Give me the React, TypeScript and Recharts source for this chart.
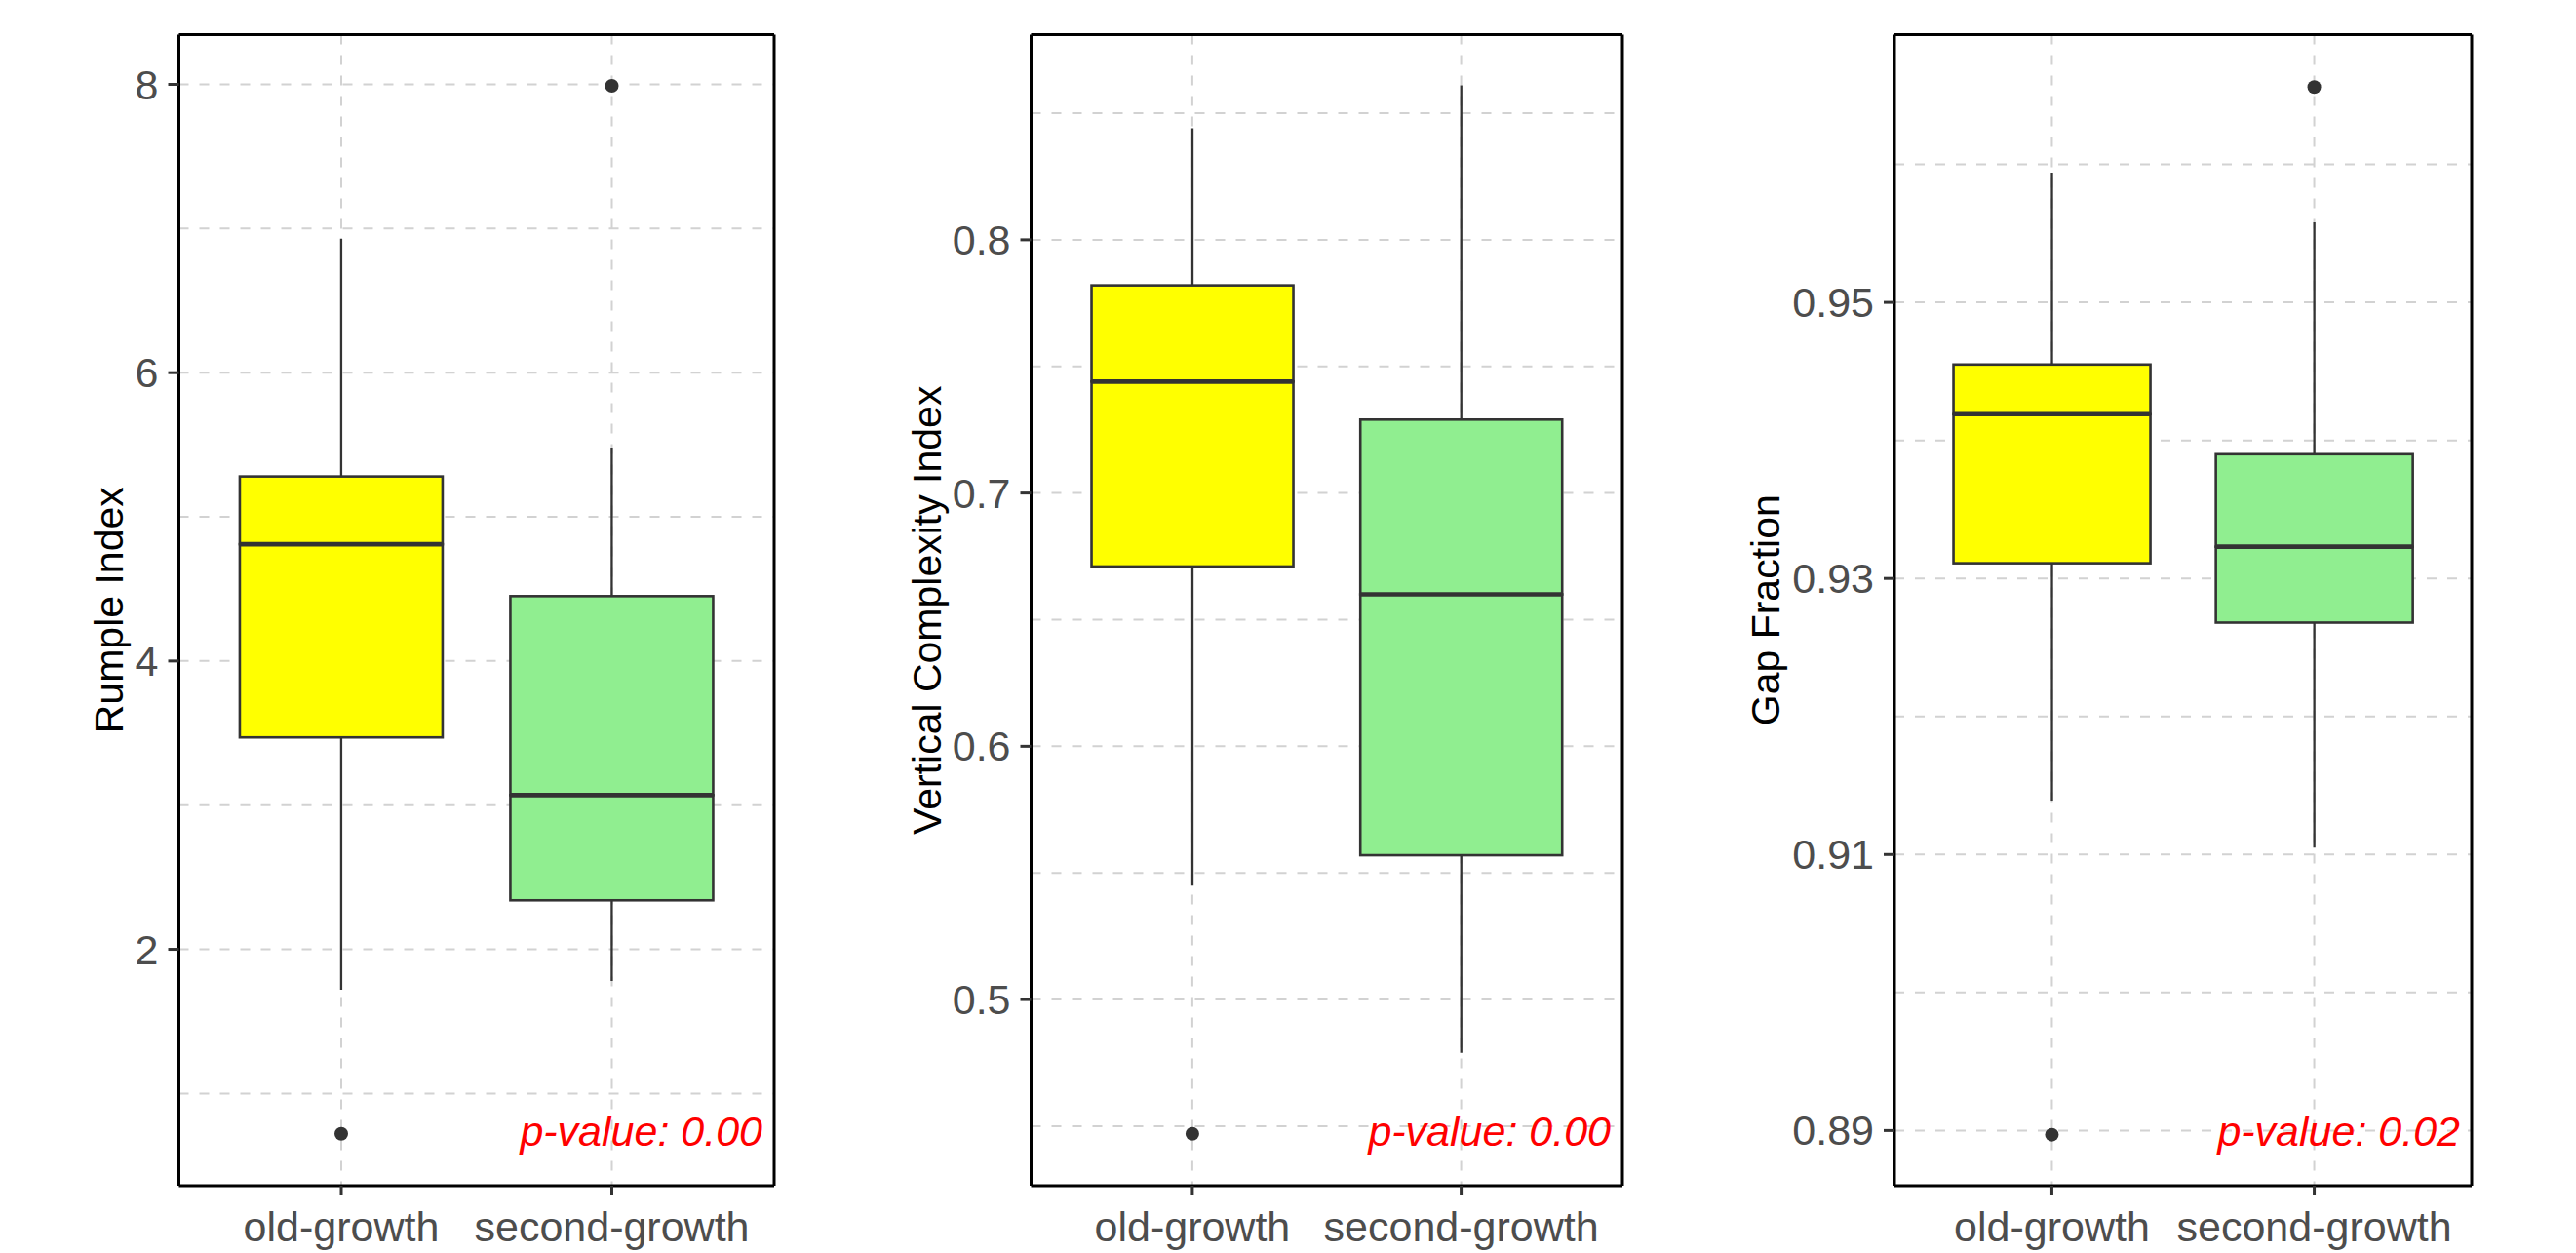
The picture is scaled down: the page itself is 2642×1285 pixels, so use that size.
import React from "react";
import { ComposedChart, Bar, Line, XAxis, YAxis, CartesianGrid } from "recharts";

const groups = ["old-growth", "second-growth"];
const groupFills = ["#FFFF00", "#90EE90"];

// Rumple Index
const rumpleMin = [1.72, 1.78];
const rumpleQ1 = [3.47, 2.34];
const rumpleMedian = [4.81, 3.07];
const rumpleQ3 = [5.28, 4.45];
const rumpleMax = [6.93, 5.48];
const rumpleOutlier = [0.72, 7.99];
const rumpleMajor = [2, 4, 6, 8];
const rumpleMinor = [1, 3, 5, 7];

// Vertical Complexity Index
const vciMin = [0.545, 0.479];
const vciQ1 = [0.671, 0.557];
const vciMedian = [0.744, 0.66];
const vciQ3 = [0.782, 0.729];
const vciMax = [0.844, 0.861];
const vciOutlier = [0.447, null];
const vciMajor = [0.5, 0.6, 0.7, 0.8];
const vciMinor = [0.45, 0.55, 0.65, 0.75, 0.85];

// Gap Fraction
const gapMin = [0.9139, 0.9105];
const gapQ1 = [0.9311, 0.9268];
const gapMedian = [0.9419, 0.9323];
const gapQ3 = [0.9455, 0.939];
const gapMax = [0.9594, 0.9558];
const gapOutlier = [0.8897, 0.9656];
const gapMajor = [0.89, 0.91, 0.93, 0.95];
const gapMinor = [0.9, 0.92, 0.94, 0.96];

const FONT = '"Liberation Sans", Arial, Helvetica, sans-serif';
const EDGE = "#333333";
const GRID = "#d2d2d2";

function buildRows(
  min: number[],
  q1: number[],
  med: number[],
  q3: number[],
  max: number[],
  out: (number | null)[]
) {
  return groups.map((g, i) => ({
    group: g,
    whisker: [min[i], max[i]],
    lower: [q1[i], med[i]],
    upper: [med[i], q3[i]],
    outlier: out[i],
  }));
}

const fillOf = (payload: any) => groupFills[groups.indexOf(payload?.group)] ?? "#ccc";

const norm = (p: any) => {
  const y = Math.min(p.y, p.y + p.height);
  return { x: p.x, y, w: p.width, h: Math.abs(p.height) };
};

const WhiskerShape = (p: any) => {
  const { x, y, w, h } = norm(p);
  const cx = x + w / 2;
  return <line x1={cx} x2={cx} y1={y} y2={y + h} stroke={EDGE} strokeWidth={2.3} />;
};

const LowerBox = (p: any) => {
  const { x, y, w, h } = norm(p);
  return <rect x={x} y={y} width={w} height={h} fill={fillOf(p.payload)} stroke={EDGE} strokeWidth={2.6} />;
};

// upper half of the box, the median drawn on its lower edge
const UpperBox = (p: any) => {
  const { x, y, w, h } = norm(p);
  return (
    <g>
      <rect x={x} y={y} width={w} height={h} fill={fillOf(p.payload)} stroke={EDGE} strokeWidth={2.6} />
      <line x1={x} x2={x + w} y1={y + h} y2={y + h} stroke={EDGE} strokeWidth={4.6} />
    </g>
  );
};

function YTick(props: any) {
  const { x, y, payload, majors } = props;
  if (!majors.includes(payload.value)) return <g />;
  return (
    <g>
      <line x1={x - 11} x2={x} y1={y} y2={y} stroke={EDGE} strokeWidth={3} />
      <text
        x={x - 21}
        y={y}
        textAnchor="end"
        dominantBaseline="central"
        fontSize={43}
        fill="#4d4d4d"
        fontFamily={FONT}
      >
        {String(payload.value)}
      </text>
    </g>
  );
}

type PanelProps = {
  rows: any[];
  domain: [number, number];
  major: number[];
  minor: number[];
  title: string;
  pValue: string;
  left: number;
  width: number;
  axisWidth: number;
  marginRight: number;
  titleX: number;
};

const HEIGHT = 1285;
const TOP = 35.5;
const XAXIS_H = 69;

function BoxPanel({ rows, domain, major, minor, title, pValue, left, width, axisWidth, marginRight, titleX }: PanelProps) {
  const ticks = [...major, ...minor].sort((a, b) => a - b);
  const plotW = width - axisWidth - marginRight;
  const pad = plotW / 22;
  const frame = { stroke: "#000", strokeWidth: 3 };
  return (
    <div style={{ position: "absolute", left, top: 0, width, height: HEIGHT }}>
      <ComposedChart
        width={width}
        height={HEIGHT}
        data={rows}
        margin={{ top: TOP - 1, right: marginRight - 1, bottom: 0, left: 0 }}
        barCategoryGap="12.5%"
      >
        <CartesianGrid stroke={GRID} strokeWidth={2} strokeDasharray="10 11" vertical={true} />
        <XAxis
          dataKey="group"
          type="category"
          interval={0}
          padding={{ left: pad, right: pad }}
          height={XAXIS_H}
          tickSize={10}
          tickMargin={16.5}
          axisLine={frame}
          tickLine={{ stroke: EDGE, strokeWidth: 3 }}
          tick={{ fill: "#4d4d4d", fontSize: 43, fontFamily: FONT }}
        />
        <XAxis
          xAxisId="top"
          orientation="top"
          dataKey="group"
          type="category"
          padding={{ left: pad, right: pad }}
          height={1}
          tick={false}
          tickLine={false}
          axisLine={frame}
        />
        <XAxis xAxisId="hid" dataKey="group" type="category" padding={{ left: pad, right: pad }} hide />
        <YAxis
          type="number"
          domain={domain}
          allowDataOverflow
          ticks={ticks}
          interval={0}
          width={axisWidth}
          tickSize={0}
          tickMargin={0}
          tickLine={false}
          axisLine={frame}
          tick={(p: any) => <YTick {...p} majors={major} />}
          label={{
            value: title,
            angle: -90,
            position: "insideLeft",
            offset: titleX,
            style: { textAnchor: "middle", fontSize: 41, fill: "#000", fontFamily: FONT },
          }}
        />
        <YAxis
          yAxisId="right"
          orientation="right"
          type="number"
          domain={domain}
          allowDataOverflow
          width={1}
          tick={false}
          tickLine={false}
          axisLine={frame}
        />
        <Bar xAxisId="top" dataKey="whisker" shape={WhiskerShape} isAnimationActive={false} />
        <Bar dataKey="lower" shape={LowerBox} isAnimationActive={false} />
        <Bar xAxisId="hid" yAxisId="right" dataKey="upper" shape={UpperBox} isAnimationActive={false} />
        <Line
          dataKey="outlier"
          stroke="none"
          isAnimationActive={false}
          activeDot={false}
          dot={{ r: 7, fill: EDGE, stroke: EDGE, strokeWidth: 0 }}
        />
      </ComposedChart>
      <div
        style={{
          position: "absolute",
          right: marginRight + 12,
          top: 1139,
          fontSize: 43,
          lineHeight: 1,
          fontStyle: "italic",
          color: "#ff0000",
          fontFamily: FONT,
          whiteSpace: "nowrap",
        }}
      >
        {pValue}
      </div>
    </div>
  );
}

export default function App() {
  return (
    <div
      style={{
        position: "absolute",
        left: 0,
        top: 0,
        width: 2642,
        height: HEIGHT,
        background: "#fff",
        overflow: "hidden",
        fontFamily: FONT,
      }}
    >
      <BoxPanel
        rows={buildRows(rumpleMin, rumpleQ1, rumpleMedian, rumpleQ3, rumpleMax, rumpleOutlier)}
        domain={[0.36, 8.345]}
        major={rumpleMajor}
        minor={rumpleMinor}
        title="Rumple Index"
        pValue="p-value: 0.00"
        left={0}
        width={830}
        axisWidth={183.5}
        marginRight={36}
        titleX={111}
      />
      <BoxPanel
        rows={buildRows(vciMin, vciQ1, vciMedian, vciQ3, vciMax, vciOutlier)}
        domain={[0.4265, 0.881]}
        major={vciMajor}
        minor={vciMinor}
        title="Vertical Complexity Index"
        pValue="p-value: 0.00"
        left={830}
        width={870}
        axisWidth={227.5}
        marginRight={36}
        titleX={120}
      />
      <BoxPanel
        rows={buildRows(gapMin, gapQ1, gapMedian, gapQ3, gapMax, gapOutlier)}
        domain={[0.886, 0.9694]}
        major={gapMajor}
        minor={gapMinor}
        title="Gap Fraction"
        pValue="p-value: 0.02"
        left={1700}
        width={942}
        axisWidth={243}
        marginRight={107}
        titleX={110}
      />
    </div>
  );
}
